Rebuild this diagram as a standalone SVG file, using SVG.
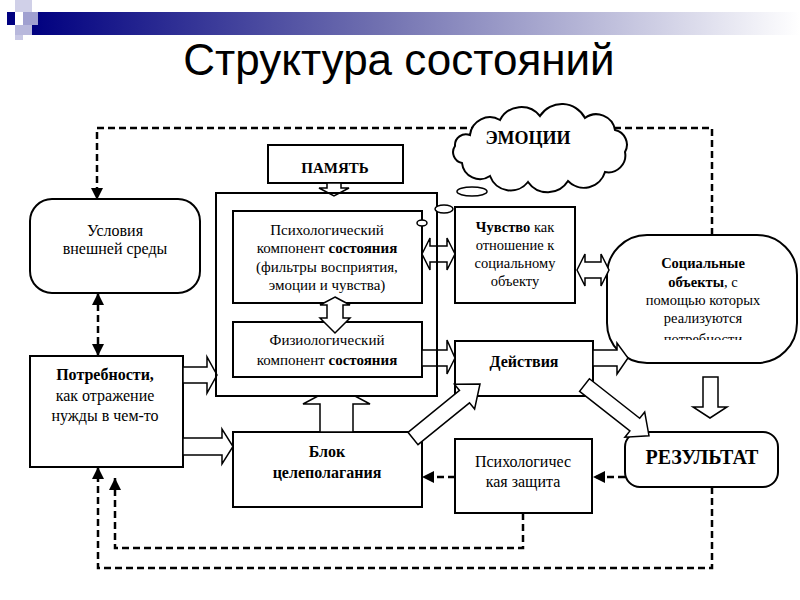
<svg xmlns="http://www.w3.org/2000/svg" width="800" height="600" viewBox="0 0 800 600">
<defs>
  <linearGradient id="bar" x1="0" x2="1" y1="0" y2="0">
    <stop offset="0" stop-color="#000080"/>
    <stop offset="0.45" stop-color="#7070b0"/>
    <stop offset="1" stop-color="#ffffff"/>
  </linearGradient>
  <marker id="ah" markerUnits="userSpaceOnUse" markerWidth="12" markerHeight="12" viewBox="0 0 12 12" refX="12" refY="6" orient="auto-start-reverse">
    <path d="M0,0 L12,6 L0,12 z" fill="#000"/>
  </marker>
  <clipPath id="clipSoc"><rect x="600" y="230" width="200" height="110"/></clipPath>
</defs>
<style>
  .box{fill:#fff;stroke:#000;stroke-width:2}
  .frame{fill:none;stroke:#000;stroke-width:2}
  .harrow{fill:#fff;stroke:#000;stroke-width:1.5;stroke-linejoin:miter}
  .dash{fill:none;stroke:#000;stroke-width:2.5;stroke-dasharray:7 4}
  .t{font-family:"Liberation Serif","Times New Roman",serif;fill:#000;text-anchor:middle}
  .b{font-weight:bold}
</style>
<rect width="800" height="600" fill="#fff"/>

<!-- header decoration -->
<g id="header">
  <rect x="32" y="12" width="768" height="23" fill="url(#bar)"/>
  <rect x="15" y="0" width="17" height="12" fill="#d0d0e8"/>
  <rect x="7" y="12" width="8" height="13" fill="#000080"/>
  <rect x="23" y="12" width="15" height="13" fill="#a0a0d0"/>
  <rect x="15" y="25" width="17" height="10" fill="#b8b8dc"/>
  <rect x="15" y="35" width="8" height="5" fill="#c8c8e4"/>
</g>
<text id="title" x="399" y="75" font-family="Liberation Sans, Arial, sans-serif" font-size="44" text-anchor="middle" fill="#000">Структура состояний</text>

<!-- dashed connectors (behind nodes) -->
<g id="connectors">
  <path class="dash" d="M712,235 V128 H97 V200" marker-end="url(#ah)"/>
  <path class="dash" d="M98,293 V356" marker-start="url(#ah)" marker-end="url(#ah)"/>
  <path class="dash" d="M625,477 H593" marker-end="url(#ah)"/>
  <path class="dash" d="M455,477 H422" marker-end="url(#ah)"/>
  <path class="dash" d="M523,513 V548 H115 V478" marker-end="url(#ah)"/>
  <path class="dash" d="M712,487 V568 H98 V467" marker-end="url(#ah)"/>
</g>

<g id="state-frame">
  <rect x="216" y="193" width="221" height="203" fill="#fff"/>
</g>

<g id="emotions">
  <path class="box" d="M470,135 A20,20 0 0 1 500,120 A24,24 0 0 1 540,116 A26,26 0 0 1 585,118 A19,19 0 0 1 615,130 A15,15 0 0 1 625,152 A17,17 0 0 1 605,172 A22,22 0 0 1 568,181 A24,24 0 0 1 528,182 A22,22 0 0 1 490,176 A18,18 0 0 1 462,163 A11,11 0 0 1 455,146 A11,11 0 0 1 470,135 Z"/>
  <text class="t b" x="528" y="144" font-size="18">ЭМОЦИИ</text>
</g>
<g id="bubble">
  <ellipse class="box" cx="472" cy="191.5" rx="15" ry="4.5" style="stroke-width:1.5"/>
</g>

<g id="usloviya">
  <rect class="box" x="30" y="199" width="170" height="94" rx="22"/>
  <text class="t" x="115" y="236" font-size="16">Условия</text>
  <text class="t" x="115" y="254" font-size="16">внешней среды</text>
</g>

<g id="potrebnosti">
  <rect class="box" x="30" y="356" width="153" height="111"/>
  <text class="t b" x="105" y="380" font-size="16">Потребности,</text>
  <text class="t" x="105" y="401" font-size="16">как отражение</text>
  <text class="t" x="105" y="421" font-size="16">нужды в чем-то</text>
</g>

<g id="pamyat">
  <rect class="box" x="268" y="145" width="135" height="38"/>
  <text class="t b" x="335" y="173" font-size="15">ПАМЯТЬ</text>
</g>

<g id="psych">
  <rect class="box" x="233" y="211" width="189" height="92"/>
  <text class="t" x="327" y="235" font-size="15">Психологический</text>
  <text class="t" x="327" y="253" font-size="15">компонент <tspan class="b">состояния</tspan></text>
  <text class="t" x="327" y="272" font-size="15">(фильтры восприятия,</text>
  <text class="t" x="327" y="290" font-size="15">эмоции и чувства)</text>
</g>

<g id="fiz">
  <rect class="box" x="233" y="322" width="189" height="55"/>
  <text class="t" x="327" y="345" font-size="15">Физиологический</text>
  <text class="t" x="327" y="365" font-size="15">компонент <tspan class="b">состояния</tspan></text>
</g>

<g id="chuvstvo">
  <rect class="box" x="455" y="207" width="120" height="96"/>
  <text class="t" x="515" y="232" font-size="14.5"><tspan class="b">Чувство</tspan> как</text>
  <text class="t" x="515" y="250" font-size="14.5">отношение к</text>
  <text class="t" x="515" y="268" font-size="14.5">социальному</text>
  <text class="t" x="515" y="286" font-size="14.5">объекту</text>
</g>

<g id="social">
  <rect class="box" x="607" y="235" width="190" height="128" rx="40"/>
  <text class="t b" x="703" y="268" font-size="14.5">Социальные</text>
  <text class="t" x="703" y="287" font-size="14.5"><tspan class="b">объекты</tspan>, с</text>
  <text class="t" x="703" y="305" font-size="14.5">помощью которых</text>
  <text class="t" x="703" y="323" font-size="14.5">реализуются</text>
  <text class="t" x="703" y="344" font-size="14.5" clip-path="url(#clipSoc)">потребности</text>
</g>

<g id="deystviya">
  <rect class="box" x="455" y="341" width="138" height="55"/>
  <text class="t b" x="524" y="367" font-size="16">Действия</text>
</g>

<g id="result">
  <rect class="box" x="625" y="432" width="153" height="55" rx="15"/>
  <text class="t b" x="702" y="464" font-size="20">РЕЗУЛЬТАТ</text>
</g>

<g id="blok">
  <rect class="box" x="233" y="432" width="189" height="75"/>
  <text class="t b" x="327" y="457" font-size="16">Блок</text>
  <text class="t b" x="327" y="478" font-size="16">целеполагания</text>
</g>

<g id="psych-defense">
  <rect class="box" x="455" y="439" width="137" height="74"/>
  <text class="t" x="523" y="467" font-size="16">Психологичес</text>
  <text class="t" x="523" y="487" font-size="16">кая защита</text>
</g>

<!-- hollow block arrows -->
<g id="block-arrows">
  <polygon class="harrow" points="327,183 341,183 341,188 349,188 334,196 319,188 327,188"/>
  <polygon class="harrow" points="335,297 350,305 343,305 343,318 350,318 335,333 320,318 327,318 327,305 320,305"/>
  <polygon class="harrow" points="422,254 430,238 430,246 447,246 447,238 455,254 447,270 447,262 430,262 430,270"/>
  <polygon class="harrow" points="577,270 585,254 585,262 601,262 601,254 609,270 601,286 601,278 585,278 585,286"/>
  <polygon class="harrow" points="422,350 447,350 447,340 455,358 447,374 447,366 422,366"/>
  <polygon class="harrow" points="593,350 617,350 617,343 628,358 617,374 617,366 593,366"/>
  <polygon class="harrow" points="703,377 718,377 718,407 727,407 710,418 693,407 703,407"/>
  <polygon class="harrow" points="579.6,391.3 629.9,430.9 624.9,437.2 649,435.7 644.7,412 639.7,418.3 589.4,378.7"/>
  <polygon class="harrow" points="408,432.3 459.5,390.4 454.4,384.2 480,384 474.6,409 469.5,402.8 418,444.7"/>
  <polygon class="harrow" points="320,432 320,404 303,404 318,396 355,396 370,404 353,404 353,432"/>
  <polygon class="harrow" points="183,367 207,367 207,357 217,375 207,393 207,383 183,383"/>
  <polygon class="harrow" points="183,438 222,438 222,429 233,446.5 222,464 222,455 183,455"/>
</g>

<g id="state-frame-outline">
  <rect class="frame" x="216" y="193" width="221" height="203"/>
  <ellipse class="box" cx="444" cy="209" rx="9" ry="4" style="stroke-width:1.5"/>
  <ellipse class="box" cx="422" cy="223" rx="5" ry="3" style="stroke-width:1.5"/>
</g>
</svg>
